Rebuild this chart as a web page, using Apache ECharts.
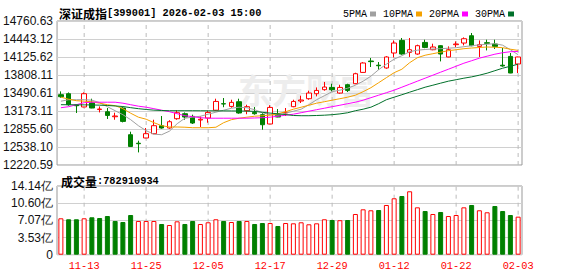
<!DOCTYPE html>
<html><head><meta charset="utf-8">
<script src="https://cdn.jsdelivr.net/npm/echarts@6/dist/echarts.min.js"></script>
<style>html,body{margin:0;padding:0;background:#fff}#c{width:578px;height:276px}</style>
</head><body><div id="c"></div>
<script>
const dates = ['11-10','11-11','11-12','11-13','11-14','11-17','11-18','11-19','11-20','11-21','11-24','11-25','11-26','11-27','11-28','12-01','12-02','12-03','12-04','12-05','12-08','12-09','12-10','12-11','12-12','12-15','12-16','12-17','12-18','12-19','12-22','12-23','12-24','12-25','12-26','12-29','12-30','12-31','01-05','01-06','01-07','01-08','01-09','01-12','01-13','01-14','01-15','01-16','01-19','01-20','01-21','01-22','01-23','01-26','01-27','01-28','01-29','01-30','02-02','02-03'];
const opens  = [13461,13478,13279,13244,13319,13199,13160,13072,13226,12755,12605,12697,12773,12914,12873,13037,13125,13078,13014,13049,13187,13302,13254,13337,13178,13148,13108,12944,13108,13138,13249,13349,13390,13478,13549,13589,13490,13637,13655,13854,14055,13981,13932,14196,14418,14207,14178,14383,14254,14325,14126,14343,14372,14501,14313,14378,14355,13981,14136,14002];
const closes = [13425,13284,13266,13478,13226,13208,13095,13085,12990,12548,12596,12773,12914,12873,12984,13143,13067,12961,13028,13148,13342,13297,13325,13138,13249,13125,12931,13236,13067,13148,13342,13367,13490,13536,13596,13549,13589,13536,13831,14020,14044,13972,14126,14372,14178,14254,14325,14295,14302,14178,14254,14355,14448,14325,14343,14367,14313,13967,13843,14126];
const lows   = [13408,13266,13138,13240,13222,13148,13032,13019,12972,12543,12443,12693,12764,12861,12861,13019,13019,12944,12891,12966,13178,13240,13231,13125,13116,13108,12843,12940,13063,13085,13240,13314,13372,13431,13531,13519,13478,13508,13646,13848,13949,13901,13919,14118,14166,14126,14166,14281,14245,14048,14122,14302,14330,14316,14126,14242,14267,13954,13840,13843];
const highs  = [13519,13501,13293,13501,13390,13254,13226,13143,13240,12808,12649,12873,13019,13085,13011,13184,13148,13108,13078,13178,13390,13402,13372,13390,13284,13243,13134,13275,13208,13226,13372,13443,13531,13589,13685,13654,13636,13654,13848,14034,14108,14037,14140,14418,14461,14461,14343,14431,14360,14334,14313,14401,14471,14549,14418,14431,14431,14284,14196,14131];
const prevClose = 13400; // close of the session before the first one shown (estimated)
const volumes = [7.49,7.29,7.29,7.49,7.70,7.55,7.96,6.94,6.73,8.17,6.94,6.94,6.94,6.32,6.11,6.87,6.32,6.94,6.32,6.67,7.29,6.94,6.73,6.94,6.94,6.32,6.52,6.52,5.91,6.52,6.46,6.67,6.26,6.46,7.29,7.14,7.10,7.14,8.38,9.34,9.14,9.20,10.23,11.61,12.08,13.05,9.75,8.99,8.38,8.79,7.96,8.17,9.75,10.23,9.14,8.73,10.02,8.99,8.17,7.83]; // 亿
const ma5  = [13346,13372,13372,13372,13364,13320,13249,13178,13108,13020,12914,12826,12764,12755,12817,12949,13046,13064,13081,13117,13152,13187,13222,13240,13231,13196,13143,13108,13099,13134,13170,13205,13284,13372,13443,13514,13540,13575,13628,13699,13787,13902,13999,14087,14149,14219,14246,14258,14267,14272,14281,14290,14307,14325,14339,14351,14360,14334,14254,14166];
const ma10 = [13417,13381,13355,13346,13337,13311,13284,13267,13214,13134,13064,13028,12967,12914,12891,12891,12887,12878,12878,12878,12887,12967,13020,13046,13064,13081,13090,13099,13125,13161,13205,13240,13275,13311,13337,13364,13390,13417,13452,13514,13584,13672,13761,13849,13910,14025,14113,14157,14184,14210,14237,14254,14272,14284,14293,14302,14298,14290,14263,14242];
const ma20 = [13231,13249,13284,13320,13328,13328,13328,13328,13311,13284,13258,13240,13214,13187,13161,13125,13090,13073,13055,13046,13046,13046,13046,13046,13046,13050,13055,13064,13081,13099,13117,13143,13170,13196,13222,13249,13275,13302,13328,13364,13408,13452,13496,13540,13593,13646,13699,13752,13805,13858,13910,13963,14016,14060,14105,14140,14175,14201,14219,14224];
const ma30 = [13284,13284,13282,13281,13280,13276,13270,13262,13252,13232,13214,13200,13188,13182,13178,13178,13178,13178,13177,13176,13176,13175,13174,13173,13171,13166,13150,13136,13124,13110,13094,13090,13090,13094,13099,13108,13122,13142,13178,13205,13240,13302,13372,13417,13460,13505,13549,13593,13628,13664,13699,13725,13752,13775,13805,13840,13884,13928,13963,13999];
const priceTicks = [12220.59,12538.10,12855.60,13173.11,13490.61,13808.11,14125.62,14443.12,14760.63];
const volTickValues = [0,3.535,7.07,10.605,14.14];
const volTickLabels = ['0','3.53亿','7.07亿','10.60亿','14.14亿'];
const titleName = '深证成指';
const titleRest = '[399001] 2026-02-03 15:00';
const volLabel = '成交量';
const lastVolume = '782910934';
const maNames = ['5PMA','10PMA','20PMA','30PMA'];

const UP = '#ff0000', DOWN = '#008000';
const MA_COLORS = ['#a0a0a0','#f4a100','#ff00ff','#00702a'];
const mono = '"Liberation Mono", monospace';
const cjk = '"Noto Sans CJK SC", sans-serif';
const sans = '"Liberation Sans", Arial, sans-serif';
const isLabelIdx = (i) => (i - 3) % 8 === 0;
const labelIdx = dates.map((d, i) => i).filter(isLabelIdx);

const chart = echarts.init(document.getElementById('c'), null, {renderer: 'svg'});

const volData = volumes.map((v, i) => {
  const up = closes[i] > (i ? closes[i - 1] : prevClose);
  return {value: v, itemStyle: up ? {color: '#fff', borderColor: UP, borderWidth: 1} : {color: DOWN, borderColor: DOWN, borderWidth: 1}};
});

const maSeries = [ma5, ma10, ma20, ma30].map((d, k) => ({
  type: 'line', name: maNames[k], xAxisIndex: 0, yAxisIndex: 0, data: d,
  symbol: 'none', smooth: false, lineStyle: {width: 1, color: MA_COLORS[k]}, itemStyle: {color: MA_COLORS[k]}, z: 3
}));

const DASH = {color: '#bbbbbb', type: [4, 4], width: 1};
// vertical dashed guide lines at the labelled dates, drawn as 2-point line series on the axes
const guideSeries = [];
labelIdx.forEach((i) => {
  guideSeries.push({type: 'line', name: 'g' + i, xAxisIndex: 0, yAxisIndex: 0, silent: true, symbol: 'none', z: 1,
    lineStyle: DASH, data: [[i, priceTicks[0]], [i, priceTicks[priceTicks.length - 1]]]});
  guideSeries.push({type: 'line', name: 'v' + i, xAxisIndex: 1, yAxisIndex: 1, silent: true, symbol: 'none', z: 1,
    lineStyle: DASH, data: [[i, 0], [i, volTickValues[volTickValues.length - 1]]]});
});

const option = {
  animation: false,
  backgroundColor: '#fff',
  title: [{
    left: 54, top: 2,
    text: '{c|' + titleName + '}{m|' + titleRest + '}',
    textStyle: {rich: {c: {fontFamily: cjk, fontSize: 12, color: '#000'}, m: {fontFamily: mono, fontSize: 10.3, color: '#000'}}}
  }, {
    left: 56, top: 170,
    text: '{c|' + volLabel + '}{m|:' + lastVolume + '}',
    textStyle: {rich: {c: {fontFamily: cjk, fontSize: 12, color: '#000'}, m: {fontFamily: mono, fontSize: 10.3, color: '#000'}}}
  }],
  legend: {
    left: 338, top: 4, align: 'right', icon: 'rect', itemWidth: 6, itemHeight: 5, itemGap: 7,
    selectedMode: false, data: maNames,
    textStyle: {fontFamily: mono, fontSize: 10, color: '#000', padding: [0, -2, 0, 0]}
  },
  graphic: [{
    type: 'text', left: 238, top: 72, z: 1, silent: true,
    style: {text: '东方财富', font: 'bold 34px "Noto Sans CJK SC"', fill: '#ededed'}
  }],
  grid: [
    {left: 57, right: 56, top: 21, height: 144, show: true, borderColor: '#999', borderWidth: 1},
    {left: 57, right: 56, top: 186, height: 68.7, show: true, borderColor: '#999', borderWidth: 1}
  ],
  xAxis: [{
    type: 'category', gridIndex: 0, data: dates, boundaryGap: true,
    axisLine: {show: false}, axisTick: {show: false}, axisLabel: {show: false}, splitLine: {show: false}
  }, {
    type: 'category', gridIndex: 1, data: dates, boundaryGap: true,
    axisLine: {show: false}, axisTick: {show: false}, splitLine: {show: false},
    axisLabel: {show: true, interval: (i) => isLabelIdx(i), color: '#ff0000', fontFamily: mono, fontSize: 10.3, margin: 6}
  }],
  yAxis: [{
    type: 'value', gridIndex: 0, min: priceTicks[0], max: priceTicks[priceTicks.length - 1],
    axisLine: {show: false}, axisTick: {show: false, customValues: priceTicks},
    axisLabel: {customValues: priceTicks, formatter: (v) => v.toFixed(2), color: '#111', fontFamily: sans, fontSize: 12, margin: 4},
    splitLine: {show: true, lineStyle: {color: '#d0d0d0', width: 1}}
  }, {
    type: 'value', gridIndex: 1, min: 0, max: volTickValues[volTickValues.length - 1],
    axisLine: {show: false}, axisTick: {show: false, customValues: volTickValues},
    axisLabel: {customValues: volTickValues, formatter: (v) => {
      let best = 0; volTickValues.forEach((t, k) => { if (Math.abs(t - v) < Math.abs(volTickValues[best] - v)) best = k; });
      return volTickLabels[best];
    }, color: '#111', fontFamily: sans, fontSize: 12, margin: 4},
    splitLine: {show: true, lineStyle: {color: '#d0d0d0', width: 1}}
  }],
  series: guideSeries.concat([{
    type: 'candlestick', name: 'K', xAxisIndex: 0, yAxisIndex: 0, barWidth: 5, z: 2,
    data: opens.map((o, i) => [o, closes[i], lows[i], highs[i]]),
    itemStyle: {color: '#fff', color0: DOWN, borderColor: UP, borderColor0: DOWN, borderWidth: 1}
  }]).concat(maSeries).concat([{
    type: 'bar', name: 'VOL', xAxisIndex: 1, yAxisIndex: 1, barWidth: 5, data: volData, z: 2
  }])
};
chart.setOption(option);
</script>
</body></html>
